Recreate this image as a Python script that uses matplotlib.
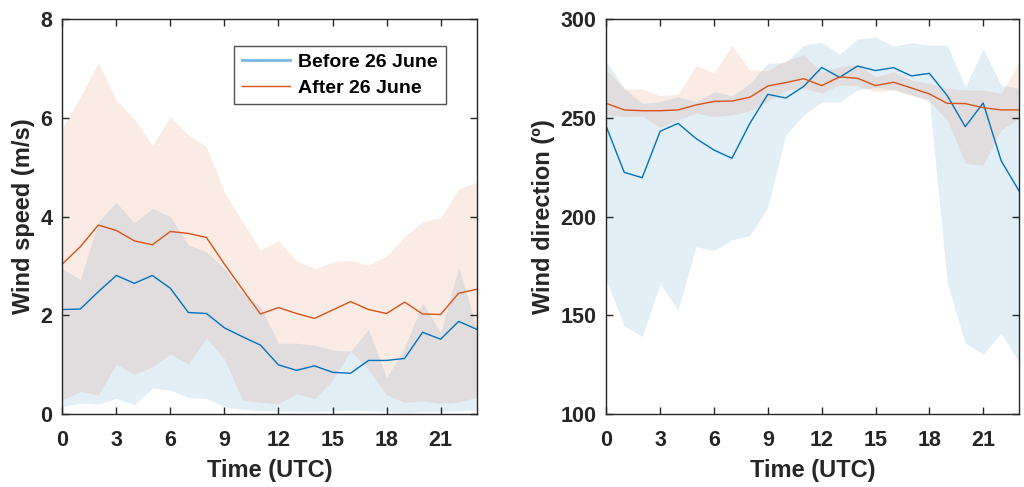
import numpy as np
import matplotlib
matplotlib.use("Agg")
import matplotlib.pyplot as plt
from matplotlib.lines import Line2D

plt.rcParams['font.family'] = ['Liberation Sans', 'DejaVu Sans']
plt.rcParams['font.weight'] = 'bold'

hours = np.arange(24)

# wind speed (m/s)
spd_before_mean = [2.12, 2.13, 2.48, 2.81, 2.65, 2.81, 2.55, 2.06, 2.04, 1.75, 1.57, 1.40,
                   1.00, 0.89, 0.98, 0.85, 0.83, 1.09, 1.09, 1.13, 1.66, 1.52, 1.88, 1.72]
spd_before_hi = [2.95, 2.73, 3.90, 4.29, 3.87, 4.17, 4.00, 3.43, 3.29, 2.95, 2.45, 2.18,
                 1.44, 1.44, 1.40, 1.30, 1.28, 1.72, 0.74, 1.35, 2.26, 1.65, 2.99, 1.74]
spd_before_lo = [0.15, 0.23, 0.21, 0.32, 0.19, 0.53, 0.49, 0.34, 0.32, 0.15, 0.10, 0.07,
                 0.07, 0.06, 0.05, 0.07, 0.08, 0.07, 0.05, 0.03, 0.05, 0.06, 0.07, 0.09]
spd_after_mean = [3.04, 3.39, 3.83, 3.72, 3.51, 3.43, 3.70, 3.66, 3.58, 3.04, 2.53, 2.03,
                  2.16, 2.04, 1.94, 2.11, 2.28, 2.12, 2.04, 2.27, 2.03, 2.02, 2.45, 2.53]
spd_after_hi = [5.79, 6.43, 7.12, 6.36, 5.98, 5.44, 6.03, 5.65, 5.42, 4.50, 3.90, 3.33,
                3.51, 3.11, 2.95, 3.08, 3.12, 3.02, 3.20, 3.60, 3.90, 3.98, 4.57, 4.69]
spd_after_lo = [0.29, 0.46, 0.39, 1.01, 0.81, 0.96, 1.22, 1.02, 1.54, 1.12, 0.29, 0.24,
                0.21, 0.42, 0.31, 0.69, 1.28, 0.90, 0.39, 0.24, 0.27, 0.22, 0.25, 0.34]

# wind direction (deg)
dir_before_mean = [245.5, 222.4, 219.7, 243.2, 247.2, 239.5, 233.7, 229.5, 247.2, 261.9, 260.0, 265.9,
                   275.5, 270.5, 276.2, 273.9, 275.4, 271.2, 272.5, 261.2, 245.5, 257.5, 228.3, 213.0]
dir_before_hi = [278.4, 265.0, 257.4, 258.2, 260.7, 258.2, 263.2, 261.2, 267.4, 277.6, 278.0, 286.8,
                 288.2, 282.3, 289.9, 291.0, 286.3, 288.0, 286.8, 286.8, 265.8, 284.8, 266.6, 264.9]
dir_before_lo = [168.0, 144.7, 139.3, 165.9, 152.8, 184.8, 182.8, 188.2, 190.4, 204.7, 241.3, 251.4,
                 258.0, 258.0, 264.1, 265.3, 264.4, 261.5, 259.0, 166.3, 135.9, 130.4, 141.0, 126.1]
dir_after_mean = [257.3, 254.0, 253.6, 253.6, 254.0, 256.5, 258.3, 258.5, 260.4, 266.1, 267.8, 269.8,
                  266.3, 270.7, 270.0, 266.3, 268.0, 265.1, 262.1, 257.3, 257.2, 255.1, 254.0, 254.0]
dir_after_hi = [274.5, 264.6, 264.6, 261.2, 262.0, 276.4, 272.8, 286.5, 274.2, 274.0, 279.0, 281.8,
                273.0, 276.0, 277.0, 270.8, 273.3, 269.1, 267.4, 264.9, 264.1, 264.1, 262.4, 278.0]
dir_after_lo = [251.4, 250.6, 250.9, 245.2, 248.9, 252.3, 250.6, 251.4, 253.5, 258.2, 264.0, 265.0,
                262.4, 266.6, 266.1, 263.2, 264.1, 261.5, 258.2, 248.9, 227.0, 226.1, 243.8, 249.7]

blue = '#0072BD'
orange = '#D95319'
dark = '#262626'

fig = plt.figure(figsize=(10.24, 4.87), dpi=100)
ax1 = fig.add_axes([0.0608, 0.1493, 0.4047, 0.8117])
ax2 = fig.add_axes([0.5921, 0.1493, 0.4031, 0.8117])


def style(ax):
    ax.set_xlim(0, 23)
    ax.set_xticks(range(0, 24, 3))
    ax.tick_params(direction='in', top=True, right=True, length=5, width=1,
                   labelsize=15.5, colors=dark)
    ax.tick_params(axis='x', pad=11)
    ax.tick_params(axis='y', pad=7)
    for s in ax.spines.values():
        s.set_color(dark)
        s.set_linewidth(1)
    for lbl in ax.get_xticklabels() + ax.get_yticklabels():
        lbl.set_fontweight('bold')
    ax.set_xlabel('Time (UTC)', fontsize=17, fontweight='bold', color=dark, labelpad=6)


# Wind speed panel
ax1.fill_between(hours, spd_before_lo, spd_before_hi, color=blue, alpha=0.11, lw=0)
ax1.fill_between(hours, spd_after_lo, spd_after_hi, color=orange, alpha=0.11, lw=0)
ax1.plot(hours, spd_before_mean, color=blue, lw=1)
ax1.plot(hours, spd_after_mean, color=orange, lw=1)
ax1.set_ylim(0, 8)
ax1.set_yticks(range(0, 9, 2))
ax1.set_ylabel('Wind speed (m/s)', fontsize=17, fontweight='bold', color=dark, labelpad=4)
style(ax1)

handles = [Line2D([], [], color='#7AB4E0', lw=2),
           Line2D([], [], color=orange, lw=1)]
leg = ax1.legend(handles, ['Before 26 June', 'After 26 June'], loc='upper right',
                 bbox_to_anchor=(0.925, 0.932), fontsize=14, frameon=True, fancybox=False,
                 shadow=False, handlelength=2.5, borderpad=0.4, labelspacing=0.4,
                 handletextpad=0.4, borderaxespad=0)
leg.get_frame().set_edgecolor(dark)
leg.get_frame().set_linewidth(1)
for t in leg.get_texts():
    t.set_fontweight('bold')

# Wind direction panel
ax2.fill_between(hours, dir_before_lo, dir_before_hi, color=blue, alpha=0.11, lw=0)
ax2.fill_between(hours, dir_after_lo, dir_after_hi, color=orange, alpha=0.11, lw=0)
ax2.plot(hours, dir_before_mean, color=blue, lw=1)
ax2.plot(hours, dir_after_mean, color=orange, lw=1)
ax2.set_ylim(100, 300)
ax2.set_yticks(range(100, 301, 50))
ax2.set_ylabel('Wind direction (º)', fontsize=17, fontweight='bold', color=dark, labelpad=4)
style(ax2)

fig.savefig('out.png', dpi=100)
